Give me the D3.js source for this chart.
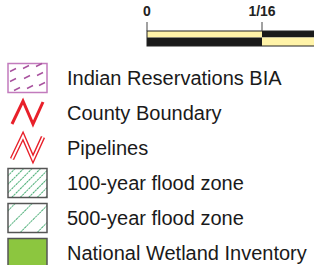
<!DOCTYPE html>
<html>
<head>
<meta charset="utf-8">
<script src="https://cdn.jsdelivr.net/npm/d3@7"></script>
<style>
  html, body { margin: 0; padding: 0; background: #fff; }
  svg { display: block; }
</style>
</head>
<body>
<div id="chart"></div>
<script>
// -------- Data --------
const scaleTicks = [0, 1 / 16];
const scaleTickLabels = ["0", "1/16"];
const scaleSegments = [[0, 1 / 16], [1 / 16, 2 / 16]];

const legendLabels = [
  "Indian Reservations BIA",
  "County Boundary",
  "Pipelines",
  "100-year flood zone",
  "500-year flood zone",
  "National Wetland Inventory"
];
const legendKinds = ["bia", "county", "pipeline", "flood100", "flood500", "wetland"];

const width = 314, height = 265;

const svg = d3.select("#chart").append("svg")
  .attr("width", width)
  .attr("height", height);

// -------- Patterns --------
const defs = svg.append("defs");

function hatch(id, step, color) {
  const p = defs.append("pattern")
    .attr("id", id)
    .attr("patternUnits", "userSpaceOnUse")
    .attr("width", step).attr("height", step)
    .attr("patternTransform", "rotate(45)");
  p.append("line")
    .attr("x1", 0).attr("y1", 0).attr("x2", 0).attr("y2", step)
    .attr("stroke", color).attr("stroke-width", 1.6)
    .attr("stroke-dasharray", "2,0.8");
}
hatch("h100", 6, "#10934a");
hatch("h500", 12, "#10934a");

// -------- Scale bar --------
const x = d3.scaleLinear().domain([0, 1 / 16]).range([147, 262]);
const bar = svg.append("g");
const barTop = 31, barMid = 37.5, barBot = 46;

scaleSegments.forEach((s, i) => {
  bar.append("rect")
    .attr("x", x(s[0])).attr("y", barTop)
    .attr("width", x(s[1]) - x(s[0])).attr("height", barMid - barTop)
    .attr("fill", i % 2 === 0 ? "#fff3a8" : "#1a1a1a");
  bar.append("rect")
    .attr("x", x(s[0])).attr("y", barMid)
    .attr("width", x(s[1]) - x(s[0])).attr("height", barBot - barMid)
    .attr("fill", i % 2 === 0 ? "#1a1a1a" : "#fff3a8");
});
bar.append("rect")
  .attr("x", x(0)).attr("y", barTop)
  .attr("width", width - x(0) + 2).attr("height", barBot - barTop)
  .attr("fill", "none").attr("stroke", "#222").attr("stroke-width", 1);

bar.selectAll(".tick").data(scaleTicks).join("line")
  .attr("x1", d => x(d)).attr("x2", d => x(d))
  .attr("y1", 22).attr("y2", barTop)
  .attr("stroke", "#444").attr("stroke-width", 1);

bar.selectAll(".lbl").data(scaleTicks).join("text")
  .attr("x", d => x(d)).attr("y", 16)
  .attr("text-anchor", "middle")
  .attr("font-family", "Liberation Sans, Arial, sans-serif")
  .attr("font-weight", "bold")
  .attr("font-size", 14)
  .attr("fill", "#222")
  .text((d, i) => scaleTickLabels[i]);

// -------- Legend --------
const y = d3.scalePoint().domain(legendLabels).range([78, 253]);
const sx = 8, sw = 39, sh = 29;

const rows = svg.append("g").selectAll("g")
  .data(legendLabels)
  .join("g")
  .attr("transform", d => `translate(0,${y(d)})`);

rows.append("text")
  .attr("x", 67).attr("y", 7)
  .attr("font-family", "Liberation Sans, Arial, sans-serif")
  .attr("font-size", 20)
  .attr("fill", "#1a1a1a")
  .text(d => d);

const zig = d3.line();
const zigPts = [[12, 23], [23, 0], [33, 23], [43, 1]];

rows.each(function (d, i) {
  const g = d3.select(this);
  const kind = legendKinds[i];
  const top = -sh / 2;
  if (kind === "bia") {
    g.append("rect")
      .attr("x", sx).attr("y", top).attr("width", sw).attr("height", sh)
      .attr("fill", "#fff").attr("stroke", "#c27bbd").attr("stroke-width", 1.5);
    const dashes = [
      [13, -8], [26, -11], [39, -13],
      [13, 2], [27, -1], [40, -4],
      [17, 11], [30, 9], [42, 6]
    ];
    g.selectAll(".dash").data(dashes).join("line")
      .attr("x1", p => p[0] - 3).attr("y1", p => p[1] + 1.5)
      .attr("x2", p => p[0] + 3).attr("y2", p => p[1] - 1.5)
      .attr("stroke", "#a9529f").attr("stroke-width", 1.4);
  } else if (kind === "county" || kind === "pipeline") {
    const pts = zigPts.map(p => [p[0], p[1] - 12]);
    if (kind === "county") {
      g.append("path").attr("d", zig(pts))
        .attr("fill", "none").attr("stroke", "#e8202a")
        .attr("stroke-width", 3).attr("stroke-linejoin", "miter");
    } else {
      g.append("path").attr("d", zig(pts))
        .attr("fill", "none").attr("stroke", "#e8202a")
        .attr("stroke-width", 4.5).attr("stroke-linejoin", "miter");
      g.append("path").attr("d", zig(pts))
        .attr("fill", "none").attr("stroke", "#fff")
        .attr("stroke-width", 1.8).attr("stroke-linejoin", "miter");
    }
  } else {
    const fill = kind === "flood100" ? "url(#h100)"
      : kind === "flood500" ? "url(#h500)" : "#8cc63f";
    if (kind !== "wetland") {
      g.append("rect")
        .attr("x", sx).attr("y", top).attr("width", sw).attr("height", sh)
        .attr("fill", "#fff");
    }
    g.append("rect")
      .attr("x", sx).attr("y", top).attr("width", sw).attr("height", sh)
      .attr("fill", fill).attr("stroke", "#555").attr("stroke-width", 1.5);
  }
});
</script>
</body>
</html>
